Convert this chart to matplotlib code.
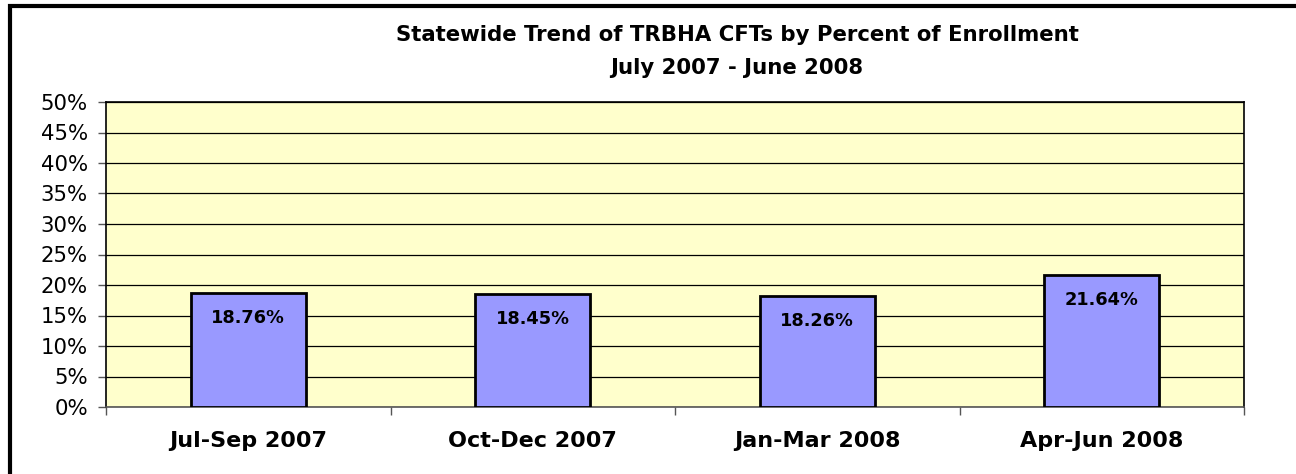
import matplotlib
matplotlib.use("Agg")
import matplotlib.pyplot as plt
from matplotlib.patches import Rectangle
from matplotlib.ticker import MultipleLocator, FuncFormatter

categories = ["Jul-Sep 2007", "Oct-Dec 2007", "Jan-Mar 2008", "Apr-Jun 2008"]
values = [18.76, 18.45, 18.26, 21.64]
title_lines = ["Statewide Trend of TRBHA CFTs by Percent of Enrollment", "July 2007 - June 2008"]

W, H = 1296, 474
fig = plt.figure(figsize=(W / 100, H / 100), dpi=100)
plt.rcParams['font.family'] = ['DejaVu Sans']

left, right, top, bottom = 106, 1244, 102, 407
ax = fig.add_axes([left / W, 1 - bottom / H, (right - left) / W, (bottom - top) / H])
ax.set_facecolor("#FFFFCC")

x = list(range(len(categories)))
bars = ax.bar(x, values, width=0.405, color="#9999FF", edgecolor="black", linewidth=2, zorder=3)
for xi, v in zip(x, values):
    ax.annotate(f"{v:.2f}%", (xi, v), xytext=(0, -25), textcoords="offset pixels",
                ha="center", va="center", fontsize=12.8, fontweight="bold", zorder=4)

ax.set_xlim(-0.5, len(categories) - 0.5)
ax.set_ylim(0, 50)
ax.yaxis.set_major_locator(MultipleLocator(5))
ax.yaxis.set_major_formatter(FuncFormatter(lambda v, p: f"{int(v)}%"))
ax.grid(axis="y", color="black", linewidth=0.9, zorder=1)
ax.set_axisbelow(True)

ax.set_xticks([i - 0.5 for i in range(len(categories) + 1)])
ax.set_xticklabels([])
ax.set_xticks(x, minor=True)
ax.set_xticklabels(categories, minor=True, fontsize=16, fontweight="bold")
ax.tick_params(axis="x", which="minor", length=0, pad=17)
ax.tick_params(axis="x", which="major", length=6, color="#555555", width=1)
ax.tick_params(axis="y", length=6, color="#555555", width=1, labelsize=15.3, pad=7)

for s in ["top", "right", "left"]:
    ax.spines[s].set_color("black")
    ax.spines[s].set_linewidth(1.2)
ax.spines["bottom"].set_color("#555555")
ax.spines["bottom"].set_linewidth(1.2)

fig.text(737 / W, 1 - 35 / H, title_lines[0], ha="center", va="center", fontsize=15.3, fontweight="bold")
fig.text(737 / W, 1 - 68 / H, title_lines[1], ha="center", va="center", fontsize=15.3, fontweight="bold")

fig.add_artist(Rectangle((9.5 / W, -0.1), 1.2, 1 - 6.5 / H + 0.1, transform=fig.transFigure,
                         fill=False, edgecolor="black", linewidth=3))

fig.savefig("out.png", dpi=100)
